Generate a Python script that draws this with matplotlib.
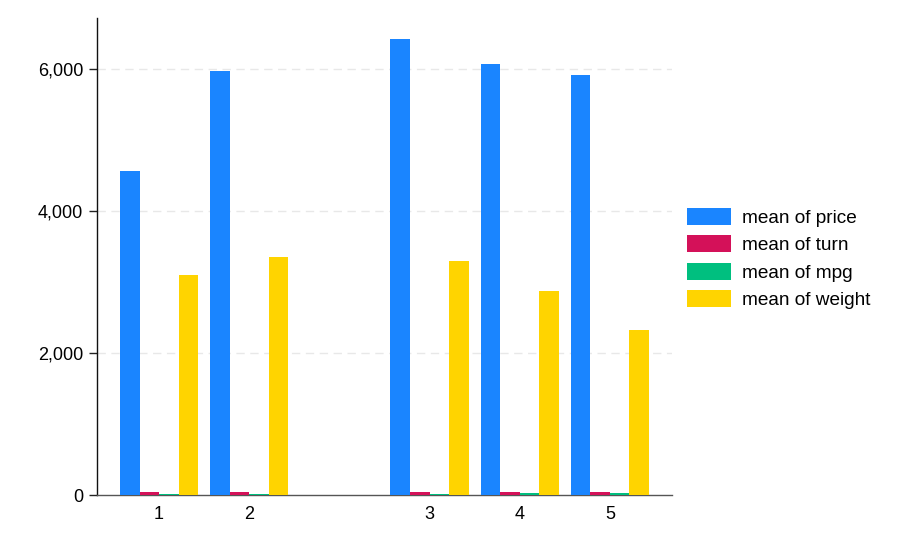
import matplotlib
matplotlib.use("Agg")
import matplotlib.pyplot as plt
import numpy as np
from matplotlib.ticker import FuncFormatter

categories = ["1", "2", "3", "4", "5"]
positions = [0, 1, 3, 4, 5]
price = [4564.5, 5967.6, 6429.2, 6071.5, 5913.0]
turn = [41.0, 43.4, 41.1, 38.5, 35.6]
mpg = [21.0, 19.1, 19.4, 21.7, 27.4]
weight = [3100.0, 3353.8, 3299.0, 2870.0, 2322.7]
series_labels = ["mean of price", "mean of turn", "mean of mpg", "mean of weight"]
colors = ["#1a85ff", "#d41159", "#00bf7f", "#ffd400"]

plt.rcParams['font.family'] = ['Liberation Sans', 'DejaVu Sans']

fig = plt.figure(figsize=(9.1, 5.46), dpi=100)
ax = fig.add_axes([97/910, 51/546, 575/910, 477/546])

series = [price, turn, mpg, weight]
bw = 0.217
pos = np.array(positions, dtype=float)
handles = []
for i, (vals, col, lab) in enumerate(zip(series, colors, series_labels)):
    h = ax.bar(pos + (i - 1.5) * bw, vals, width=bw, color=col, label=lab, zorder=3, linewidth=0)
    handles.append(h)

ax.set_xlim(-0.689, 5.689)
ax.set_ylim(0, 6718)
ax.set_yticks([0, 2000, 4000, 6000])
ax.yaxis.set_major_formatter(FuncFormatter(lambda v, p: f"{int(v):,}"))
ax.set_xticks(pos)
ax.set_xticklabels(categories)
ax.tick_params(axis='x', length=0, labelsize=13, pad=8)
ax.tick_params(axis='y', length=6, width=1, labelsize=13, pad=4, color="#222222")
for y in [2000, 4000, 6000]:
    ax.axhline(y, color="#e8e8e8", linestyle=(0, (6, 4)), linewidth=1, zorder=1)
for s in ["top", "right"]:
    ax.spines[s].set_visible(False)
ax.spines["left"].set_color("#111111")
ax.spines["bottom"].set_color("#555555")
ax.spines["left"].set_linewidth(1)
ax.spines["bottom"].set_linewidth(1)

fig.legend(handles=handles, labels=series_labels, loc="upper left",
           bbox_to_anchor=(679/910, 1 - 200/546), frameon=False, fontsize=13.7,
           handlelength=2.35, handleheight=1.0, handletextpad=0.58, labelspacing=0.45,
           borderaxespad=0)

fig.savefig("out.png", dpi=100)
